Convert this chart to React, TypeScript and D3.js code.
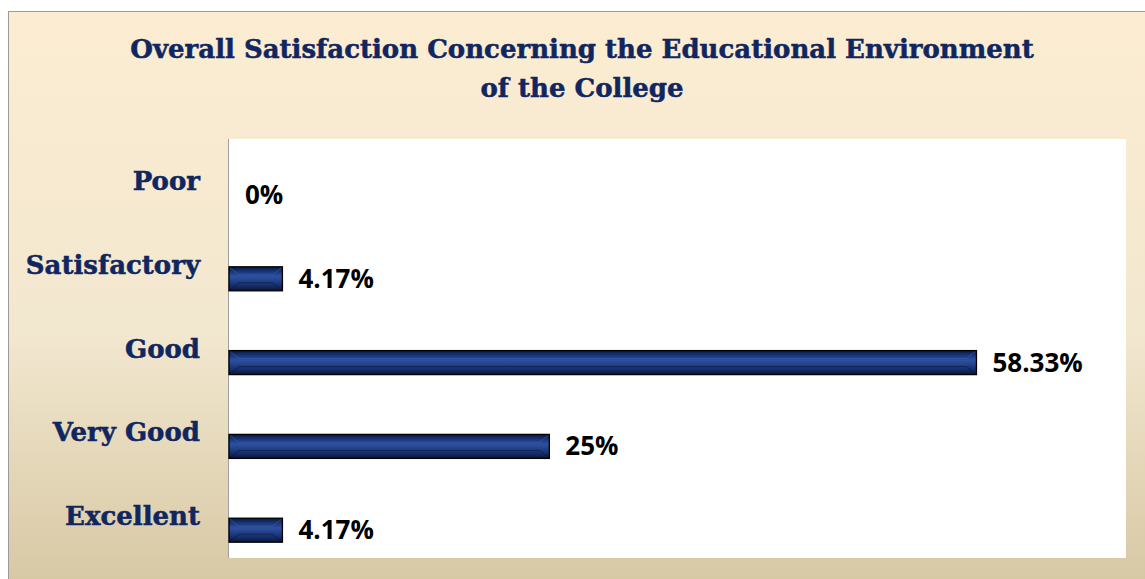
import React from "react";
import * as d3 from "d3";

const categories = ["Poor", "Satisfactory", "Good", "Very Good", "Excellent"];
const values = [0, 4.17, 58.33, 25, 4.17];
const valueLabels = ["0%", "4.17%", "58.33%", "25%", "4.17%"];
const titleLines = [
  "Overall Satisfaction Concerning the Educational Environment",
  "of the College",
];

const W = 1145;
const H = 579;
const plot = { left: 229, right: 1126, top: 139, bottom: 558 };

export default function App() {
  const x = d3.scaleLinear().domain([0, 70]).range([plot.left, plot.right]);
  const y = d3
    .scaleBand<string>()
    .domain(categories)
    .range([plot.top, plot.bottom]);
  const bw = y.bandwidth();
  const barOff = bw * 0.525;
  const barH = 24;
  const navy = "#0F2660";

  return (
    <svg
      width={W}
      height={H}
      style={{ position: "absolute", left: 0, top: 0, display: "block" }}
    >
      <defs>
        <linearGradient id="bg" x1="0" y1="0" x2="0" y2="1">
          <stop offset="0" stopColor="#FCEDD2" />
          <stop offset="0.55" stopColor="#F2E7CF" />
          <stop offset="1" stopColor="#D5C6A1" />
        </linearGradient>
        <linearGradient id="bar" x1="0" y1="0" x2="0" y2="1">
          <stop offset="0" stopColor="#081638" />
          <stop offset="0.15" stopColor="#142F70" />
          <stop offset="0.4" stopColor="#2D50A0" />
          <stop offset="0.55" stopColor="#25458F" />
          <stop offset="0.8" stopColor="#142C68" />
          <stop offset="1" stopColor="#0A1535" />
        </linearGradient>
      </defs>
      <rect x={0} y={0} width={W} height={H} fill="#ffffff" />
      <rect
        x={8.5}
        y={11.5}
        width={W + 10}
        height={H + 10}
        fill="url(#bg)"
        stroke="#9a9a9a"
        strokeWidth={1}
      />
      {titleLines.map((t, i) => (
        <text
          key={i}
          x={582}
          y={51 + i * 39}
          textAnchor="middle"
          dominantBaseline="middle"
          fontFamily="'DejaVu Serif', serif"
          fontWeight="bold"
          fontSize={26}
          fill={navy}
          stroke={navy}
          strokeWidth={0.5}
        >
          {t}
        </text>
      ))}
      <rect
        x={plot.left}
        y={plot.top}
        width={plot.right - plot.left}
        height={plot.bottom - plot.top}
        fill="#ffffff"
      />
      <line
        x1={plot.left - 0.5}
        x2={plot.left - 0.5}
        y1={plot.top}
        y2={plot.bottom}
        stroke="#a0a0a0"
        strokeWidth={1}
      />
      {categories.map((c, i) => {
        const by = (y(c) as number) + barOff;
        const bx = x(0);
        const bwid = x(values[i]) - x(0);
        return (
          <g key={c}>
            <text
              x={200}
              y={(y(c) as number) + bw / 2 + 2}
              textAnchor="end"
              dominantBaseline="middle"
              fontFamily="'DejaVu Serif', serif"
              fontWeight="bold"
              fontSize={26}
              fill={navy}
              stroke={navy}
              strokeWidth={0.5}
            >
              {c}
            </text>
            {values[i] > 0 && (
              <g>
                <rect
                  x={bx}
                  y={by}
                  width={bwid}
                  height={barH}
                  fill="url(#bar)"
                  stroke="#000000"
                  strokeWidth={1.3}
                />
                <path
                  d={`M${bx + 1},${by + 1} L${bx + 10},${by + 8} L${bx + bwid - 10},${by + 8} L${bx + bwid - 1},${by + 1}`}
                  fill="none"
                  stroke="#3d5ca8"
                  strokeWidth={1}
                  opacity={0.6}
                />
                <path
                  d={`M${bx + 1},${by + barH - 1} L${bx + 10},${by + barH - 8} L${bx + bwid - 10},${by + barH - 8} L${bx + bwid - 1},${by + barH - 1}`}
                  fill="none"
                  stroke="#0a163a"
                  strokeWidth={1}
                  opacity={0.6}
                />
              </g>
            )}
            <text
              x={x(values[i]) + 16}
              y={by + barH / 2 + 2}
              dominantBaseline="middle"
              fontFamily="'Open Sans', Lato, sans-serif"
              fontWeight="bold"
              fontSize={26}
              fill="#000000"
            >
              {valueLabels[i]}
            </text>
          </g>
        );
      })}
    </svg>
  );
}
